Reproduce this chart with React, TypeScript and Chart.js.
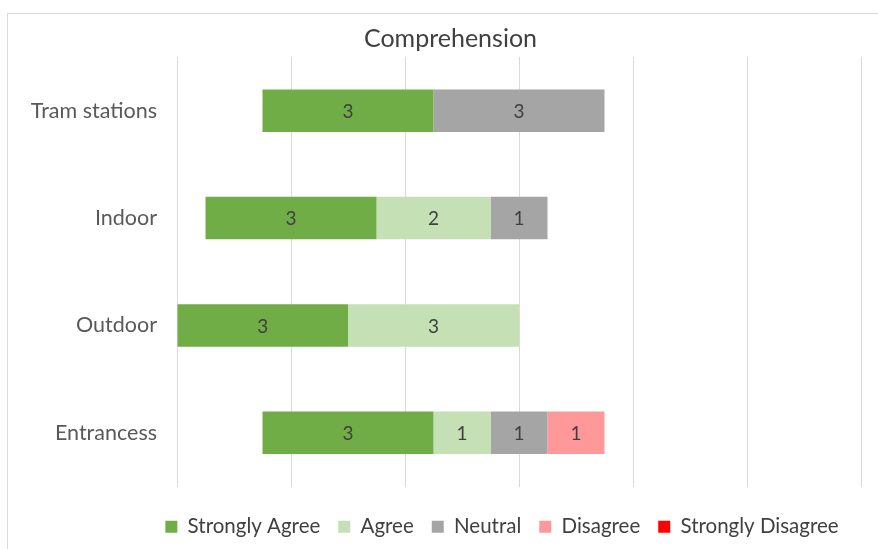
import React, { useEffect, useRef } from "react";
import { Chart, registerables } from "chart.js";

Chart.register(...registerables);

const categories = ["Tram stations", "Indoor", "Outdoor", "Entrancess"];
const stronglyAgree = [3, 3, 3, 3];
const agree = [0, 2, 3, 1];
const neutral = [3, 1, 0, 1];
const disagree = [0, 0, 0, 1];
const stronglyDisagree = [0, 0, 0, 0];
const seriesNames = ["Strongly Agree", "Agree", "Neutral", "Disagree", "Strongly Disagree"];
const seriesColors = ["#70AD47", "#C5E0B4", "#A5A5A5", "#FF9999", "#FF0000"];
const chartTitle = "Comprehension";
const centerValue = 6;
const axisMax = 12;
const FONT = "Lato, 'Noto Sans', sans-serif";

const offsets = categories.map((_, i) => centerValue - (stronglyAgree[i] + agree[i] + neutral[i] / 2));

const frame = {
  id: "frame",
  beforeDraw(chart: any) {
    const ctx = chart.ctx;
    ctx.save();
    ctx.fillStyle = "#FFFFFF";
    ctx.fillRect(0, 0, chart.width, chart.height);
    ctx.strokeStyle = "#D9D9D9";
    ctx.lineWidth = 1;
    ctx.strokeRect(7.5, 13.5, 1000, 1000);
    ctx.font = `25px ${FONT}`;
    ctx.fillStyle = "#404040";
    ctx.textAlign = "center";
    ctx.textBaseline = "middle";
    ctx.fillText(chartTitle, 450.5, 39);
    ctx.restore();
  },
};

const categoryLabels = {
  id: "categoryLabels",
  afterDraw(chart: any) {
    const ctx = chart.ctx;
    const yScale = chart.scales.y;
    ctx.save();
    ctx.font = `21.5px ${FONT}`;
    ctx.fillStyle = "#595959";
    ctx.textAlign = "right";
    ctx.textBaseline = "middle";
    categories.forEach((c, i) => {
      ctx.fillText(c, chart.chartArea.left - 20, yScale.getPixelForValue(i));
    });
    ctx.restore();
  },
};

const valueLabels = {
  id: "valueLabels",
  afterDatasetsDraw(chart: any) {
    const ctx = chart.ctx;
    ctx.save();
    ctx.font = `19px ${FONT}`;
    ctx.fillStyle = "#404040";
    ctx.textAlign = "center";
    ctx.textBaseline = "middle";
    chart.data.datasets.forEach((ds: any, di: number) => {
      if (ds.isOffset) return;
      const meta = chart.getDatasetMeta(di);
      meta.data.forEach((el: any, i: number) => {
        const v = ds.data[i];
        if (!v) return;
        const p = el.getProps(["x", "y", "base"], true);
        ctx.fillText(String(v), (p.x + p.base) / 2, p.y + 1);
      });
    });
    ctx.restore();
  },
};

export default function App() {
  const ref = useRef<HTMLCanvasElement>(null);
  useEffect(() => {
    if (!ref.current) return;
    const values = [stronglyAgree, agree, neutral, disagree, stronglyDisagree];
    const chart = new Chart(ref.current, {
      type: "bar",
      data: {
        labels: categories,
        datasets: [
          {
            label: "",
            data: offsets,
            backgroundColor: "rgba(0,0,0,0)",
            isOffset: true,
            categoryPercentage: 1,
            barPercentage: 0.395,
          } as any,
          ...seriesNames.map((name, k) => ({
            label: name,
            data: values[k],
            backgroundColor: seriesColors[k],
            borderWidth: 0,
            categoryPercentage: 1,
            barPercentage: 0.395,
          })),
        ],
      },
      options: {
        indexAxis: "y",
        responsive: false,
        animation: false,
        layout: { padding: { top: 57, right: 17, bottom: 2, left: 143 } },
        scales: {
          x: {
            stacked: true,
            min: 0,
            max: axisMax,
            ticks: { display: false, stepSize: 2 },
            grid: { color: "#D9D9D9", drawTicks: false },
            border: { display: false },
            afterFit(scale: any) {
              scale.height = 12;
            },
          },
          y: {
            stacked: true,
            grid: { display: false },
            border: { display: false },
            ticks: { display: false },
            afterFit(scale: any) {
              scale.width = 34;
            },
          },
        },
        plugins: {
          title: { display: false },
          legend: {
            position: "bottom",
            labels: {
              filter: (item: any) => item.text !== "",
              color: "#404040",
              font: { family: FONT, size: 20.5 },
              boxWidth: 12,
              boxHeight: 12,
              padding: 18,
            },
          },
          tooltip: { enabled: false },
        },
      },
      plugins: [frame, valueLabels, categoryLabels],
    });
    return () => chart.destroy();
  }, []);
  return (
    <div style={{ position: "fixed", left: 0, top: 0, width: 878, height: 549 }}>
      <canvas ref={ref} width={878} height={549} style={{ width: 878, height: 549 }} />
    </div>
  );
}
